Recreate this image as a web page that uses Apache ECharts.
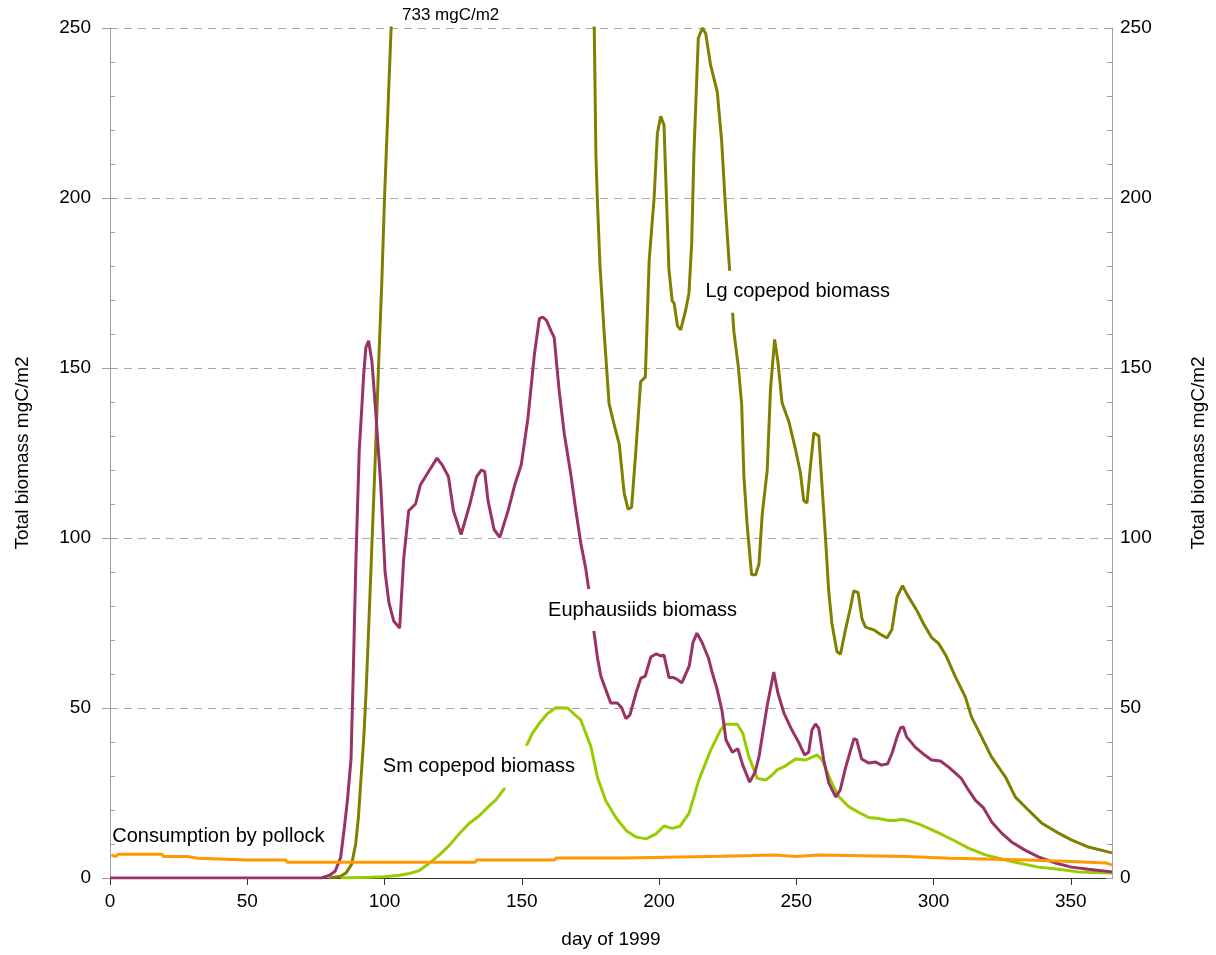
<!DOCTYPE html>
<html>
<head>
<meta charset="utf-8">
<script src="https://cdn.jsdelivr.net/npm/echarts@6/dist/echarts.min.js"></script>
<style>
  html, body { margin: 0; padding: 0; background: #fff; }
  #main { width: 1216px; height: 955px; }
</style>
</head>
<body>
<div id="main"></div>
<script>
// [day, mgC/m2]
var lgCopepod = [[80,0],[84,0.5],[86,1.5],[88,4],[89.5,10],[90.5,18],[91.5,30],[92.5,42],[93.3,55],[94.3,75],[95.5,100],[96.7,125],[97.8,150],[99,175],[100,200],[101.2,225],[102.4,250],[105,310],[115,520],[125,690],[135,733],[145,690],[155,580],[165,440],[172,340],[174.5,300],[176.4,249.7],[177,213],[177.5,200],[178.5,180],[180,160.5],[181.8,139.5],[183.6,133.5],[185.5,127.6],[187.3,113.2],[188.7,108.5],[190,109],[191.5,125],[193.3,146],[195,147.3],[196.4,181.5],[198.2,200],[199.4,219],[200.6,224],[201.8,221.5],[202.7,200],[203.6,179],[204.8,169.7],[205.5,169],[206.7,162.4],[207.9,161.2],[209.7,167],[210.9,172],[211.9,186.8],[212.7,213],[214.3,247],[215.8,250],[217,248.4],[218.8,239],[221.2,231.3],[222.8,216.9],[224.2,197.2],[225.7,178.8],[227.3,160.4],[228.8,151],[230.1,139.4],[230.9,118.3],[232.1,103.8],[233.7,89.2],[235.2,89.2],[236.4,92.4],[237.6,107],[239.4,119.9],[240.6,143.8],[242.1,158.4],[243.3,151.9],[244.8,139.8],[247.3,134.2],[249.7,126.1],[251.5,119.2],[252.7,111],[253.9,110.3],[255.2,121.5],[256.4,130.9],[258.2,130],[259.4,115],[260.6,100.5],[261.8,84.4],[263,74.7],[264.8,66.6],[266.1,65.8],[267.9,73],[269.7,79.4],[270.9,84.4],[272.5,84],[273.9,76.3],[275.2,73.8],[278.2,73],[280.6,71.7],[283,70.6],[284.8,73],[286.7,82.7],[288.7,86],[290.3,83.5],[293.9,78.7],[296.4,74.7],[299.4,70.6],[301.8,69],[304.4,65.6],[308,59.1],[311.6,53.2],[313.8,47.4],[317.5,41.5],[321.1,35.6],[326.2,29.7],[329.8,23.8],[334.5,20],[339.3,16.2],[345.5,13.2],[350.2,11.2],[356.4,9.1],[365,7.4]];

var euphausiids = [[0,0],[77,0],[80,0.8],[82,2],[84,6],[85.4,15],[86.5,23],[87.8,35],[88.6,60],[89.6,94],[90.8,126],[91.7,138],[92.4,148],[93.2,156],[94.2,158],[95.4,152],[96.8,137],[98.6,116],[100.2,90],[101.6,81],[103.4,75.5],[105.5,73.5],[107,94],[108.8,108],[111.3,110],[113,115.5],[116,119.5],[119.1,123.5],[121,121.5],[123.3,118],[125.1,108],[127.9,101],[131.1,110],[133.5,118],[135.3,120],[136.5,119.5],[137.7,111],[139.9,102.5],[142,100.2],[145,108],[147.4,115.5],[149.8,121.5],[152.2,135],[154.6,154],[156.4,164.5],[157.6,165],[159,164],[160.6,161],[161.8,159],[163.6,143.5],[165.5,130.5],[167.9,118.5],[169.7,108],[171.5,98.5],[173.3,91],[174.5,84.3],[176.4,71.8],[177.6,64.6],[178.8,59.4],[180.6,55.4],[182.4,51.5],[184.8,51.5],[186.4,50.1],[187.9,46.9],[189.4,48],[191.6,54.4],[193.4,58.8],[195,59.4],[197,65],[198.9,65.9],[200.7,65.3],[201.8,65.6],[203.6,59],[205,59],[206.5,58.5],[208.3,57.4],[211,62.4],[212.4,69.4],[213.8,72],[215.6,69.4],[218,64.7],[219.3,60.6],[221,56],[222.9,49.4],[224.4,40.6],[226.7,37],[228.7,38],[230.5,33.2],[233,28.2],[235,31.2],[236.4,35.6],[239.3,50.3],[241.8,60.6],[243.3,54.4],[245.5,48.5],[248.4,43.5],[251,39.7],[253,36.2],[254.5,37],[255.7,43.5],[257,45.3],[258.2,44],[260,34.7],[261.8,28],[264.4,23.8],[266,25.9],[268,32.6],[271,41],[272,40.6],[273.8,35],[276.4,33.8],[278.9,34.1],[281,33.2],[283.3,33.6],[285,37],[286.7,41.5],[288,44.2],[289,44.4],[290.2,41.5],[293.3,38.5],[297,36],[299.3,34.7],[302.5,34.4],[305.5,32.6],[310,29.4],[312.7,25.9],[315.2,22.9],[318.2,20.6],[321.2,16.5],[324.8,13.2],[328.4,10.6],[333.3,8.2],[338.2,6.2],[344.4,4.4],[350.2,3.2],[356.4,2.6],[365,1.8]];

var smCopepod = [[84,0],[95,0.2],[100,0.4],[105.5,0.8],[109,1.3],[112.7,2.2],[116.4,4.4],[120,6.8],[123.6,9.6],[127.3,13.1],[130.9,16.1],[134.5,18.3],[138.2,21.3],[140.6,23],[143.3,25.9],[146,29.5],[149,34],[151.5,38.6],[153.9,42.6],[156.4,45.5],[159.4,48.4],[162.4,50.1],[166.7,50],[169.4,48],[171.5,46.5],[173.3,42.6],[175.2,38.6],[177.6,29.5],[180.6,22.7],[184.5,17.5],[188.2,13.8],[191.5,12.1],[195.2,11.5],[198.8,12.9],[201.8,15.3],[204.8,14.6],[207.6,15.2],[210.9,19],[214.5,28.8],[218.8,37.6],[222.4,43.5],[224.2,45.2],[228.5,45.2],[230.5,42.6],[232.7,35.7],[235.8,29.3],[238.8,28.8],[241.2,30.3],[243,31.8],[246.1,33],[249.7,35],[253.3,34.7],[257.6,36.2],[259.4,34.7],[263,27.8],[265.5,23.9],[269.1,21],[272.7,19.3],[276.4,17.8],[280,17.5],[283.6,16.9],[286.1,16.9],[288.5,17.3],[291,16.8],[294.5,15.9],[298.2,14.6],[303,12.8],[308,10.8],[312.7,8.8],[318.9,6.8],[324.8,5.6],[331,4.4],[338.2,3.2],[345.5,2.6],[352.7,1.8],[365,1.5]];

var pollockConsumption = [[0.5,6.8],[2,6.3],[3,7.0],[19,7.0],[19.5,6.3],[28,6.3],[28.5,5.8],[32,5.8],[32.5,5.3],[50,5.3],[50.5,5.7],[51,5.3],[64,5.3],[64.5,4.6],[133,4.6],[133.5,5.3],[162,5.3],[162.5,5.9],[187,5.9],[187.5,6.4],[223,6.4],[223.5,6.8],[242,6.8],[242.5,6.3],[250,6.3],[250.5,6.8],[258,6.8],[258.5,6.3],[290,6.3],[290.5,5.8],[306,5.8],[306.5,5.3],[334,5.3],[334.5,4.9],[348,4.9],[348.5,4.4],[363,4.4],[365,3.8]];

var FONT = 'Liberation Sans, Arial, sans-serif';

function seriesLabel(text, coord, boxed) {
  return {
    symbol: 'rect',
    symbolSize: 1,
    silent: true,
    itemStyle: { color: 'rgba(0,0,0,0)' },
    label: {
      show: true,
      position: 'inside',
      formatter: text,
      color: '#000',
      fontFamily: FONT,
      fontSize: 20,
      backgroundColor: boxed ? '#fff' : 'transparent',
      padding: boxed ? [11, 6] : 0
    },
    data: [{ coord: coord }]
  };
}

function line(name, data, color, label) {
  return {
    name: name,
    type: 'line',
    data: data,
    showSymbol: false,
    clip: true,
    lineStyle: { color: color, width: 3 },
    itemStyle: { color: color },
    markPoint: label
  };
}

var myChart = echarts.init(document.getElementById('main'));
var option = {
  animation: false,
  backgroundColor: '#fff',
  textStyle: { fontFamily: FONT },
  grid: { left: 110, right: 103, top: 28, bottom: 77 },
  graphic: [{
    type: 'text',
    left: 402,
    top: 7,
    style: { text: '733 mgC/m2', fill: '#000', font: '17px ' + FONT }
  }],
  xAxis: {
    type: 'value',
    min: 0,
    max: 365,
    interval: 50,
    name: 'day of 1999',
    nameLocation: 'middle',
    nameGap: 52,
    nameTextStyle: { color: '#000', fontSize: 19, fontFamily: FONT },
    axisLine: { lineStyle: { color: '#333', width: 1 } },
    axisTick: { length: 7, lineStyle: { color: '#333' } },
    axisLabel: { color: '#000', fontSize: 19, fontFamily: FONT, margin: 14, showMaxLabel: false },
    splitLine: { show: false }
  },
  yAxis: [{
    type: 'value',
    position: 'left',
    min: 0,
    max: 250,
    interval: 50,
    name: 'Total biomass mgC/m2',
    nameLocation: 'middle',
    nameRotate: 90,
    nameGap: 78,
    nameTextStyle: { color: '#000', fontSize: 19, fontFamily: FONT },
    axisLine: { show: true, lineStyle: { color: '#a0a0a0' } },
    axisTick: { show: true, length: 8, lineStyle: { color: '#a0a0a0' } },
    axisLabel: { color: '#000', fontSize: 19, fontFamily: FONT, margin: 19 },
    splitLine: { show: true, lineStyle: { color: '#a8a8a8', type: [8, 6], width: 1 } }
  }, {
    type: 'value',
    position: 'right',
    min: 0,
    max: 250,
    interval: 50,
    name: 'Total biomass mgC/m2',
    nameLocation: 'middle',
    nameRotate: 90,
    nameGap: 77,
    nameTextStyle: { color: '#000', fontSize: 19, fontFamily: FONT },
    axisLine: { show: true, lineStyle: { color: '#a0a0a0' } },
    axisTick: { show: true, inside: true, length: 6, lineStyle: { color: '#a0a0a0' } },
    minorTick: { show: true, splitNumber: 5, length: 5, lineStyle: { color: '#a0a0a0' } },
    axisLabel: { color: '#000', fontSize: 19, fontFamily: FONT, margin: 8 },
    splitLine: { show: false }
  }, {
    // minor ticks pointing inward on the left axis
    type: 'value',
    position: 'left',
    min: 0,
    max: 250,
    interval: 10,
    axisLine: { show: false },
    axisTick: { show: true, inside: true, length: 5, lineStyle: { color: '#a0a0a0' } },
    axisLabel: { show: false },
    splitLine: { show: false }
  }],
  series: [
    line('Sm copepod biomass', smCopepod, '#99CC00', seriesLabel('Sm copepod biomass', [134.4, 32.7], true)),
    line('Lg copepod biomass', lgCopepod, '#808000', seriesLabel('Lg copepod biomass', [250.5, 172.4], true)),
    line('Euphausiids biomass', euphausiids, '#993366', seriesLabel('Euphausiids biomass', [194, 78.8], true)),
    line('Consumption by pollock', pollockConsumption, '#FF9900', seriesLabel('Consumption by pollock', [39.5, 12.1], false))
  ]
};
myChart.setOption(option);
</script>
</body>
</html>
